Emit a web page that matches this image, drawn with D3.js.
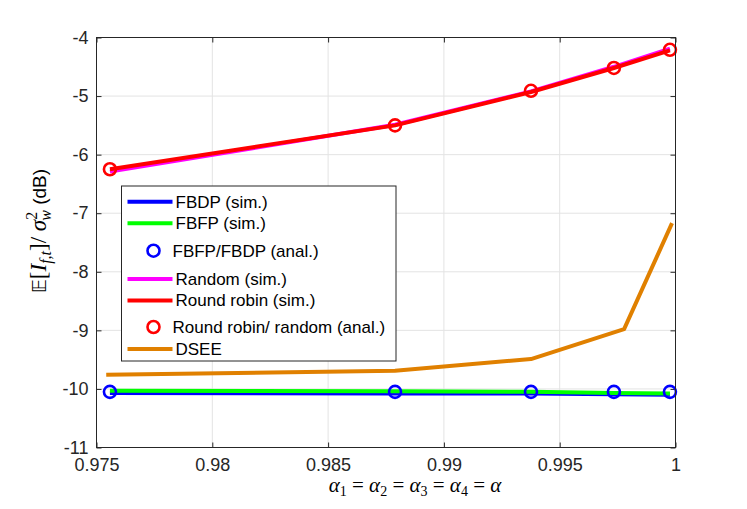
<!DOCTYPE html>
<html><head><meta charset="utf-8">
<script src="https://cdn.jsdelivr.net/npm/d3@7"></script>
<style>body{margin:0;background:#fff}svg{display:block}</style>
</head><body>
<svg id="c" width="747" height="509"></svg>
<script>
const alphaSim = [0.97558, 0.98789, 0.99376, 0.99734, 0.99976];
const alphaDSEE = [0.97542, 0.98789, 0.99376, 0.99778, 0.99985];
const fbdpSim = [-10.07, -10.08, -10.08, -10.09, -10.10];
const fbfpSim = [-10.03, -10.04, -10.05, -10.07, -10.08];
const fbAnal = [-10.05, -10.05, -10.05, -10.05, -10.05];
const randomSim = [-6.29, -5.49, -4.92, -4.50, -4.19];
const rrSim = [-6.25, -5.50, -4.93, -4.52, -4.22];
const rrAnal = [-6.25, -5.50, -4.91, -4.52, -4.21];
const dsee = [-9.76, -9.69, -9.49, -8.98, -7.17];
const xTicks = [0.975, 0.98, 0.985, 0.99, 0.995, 1];
const xTickLabels = ["0.975", "0.98", "0.985", "0.99", "0.995", "1"];
const yTicks = [-4, -5, -6, -7, -8, -9, -10, -11];
const yTickLabels = ["-4", "-5", "-6", "-7", "-8", "-9", "-10", "-11"];
const legendLabels = ["FBDP (sim.)", "FBFP (sim.)", "FBFP/FBDP (anal.)", "Random (sim.)", "Round robin (sim.)", "Round robin/ random (anal.)", "DSEE"];

const svg = d3.select("#c");
const L = 96.5, R = 675.5, T = 37.5, B = 447.5;
const x = d3.scaleLinear().domain([0.975, 1]).range([L, R]);
const y = d3.scaleLinear().domain([-11, -4]).range([B, T]);
const axisCol = "#262626";
const font = "'Liberation Sans', Arial, sans-serif";

// grid
const g = svg.append("g");
g.selectAll(".gx").data(xTicks).join("line")
  .attr("x1", d => x(d)).attr("x2", d => x(d)).attr("y1", T).attr("y2", B)
  .attr("stroke", "#e3e3e3").attr("stroke-width", 1);
g.selectAll(".gy").data(yTicks).join("line")
  .attr("x1", L).attr("x2", R).attr("y1", d => y(d)).attr("y2", d => y(d))
  .attr("stroke", "#e3e3e3").attr("stroke-width", 1);

// axes
const xAxB = d3.axisBottom(x).tickValues(xTicks).tickFormat((d, i) => xTickLabels[i]).tickSizeInner(-5).tickSizeOuter(0).tickPadding(11);
const xAxT = d3.axisTop(x).tickValues(xTicks).tickFormat("").tickSizeInner(-5).tickSizeOuter(0);
const yAxL = d3.axisLeft(y).tickValues(yTicks).tickFormat((d, i) => yTickLabels[i]).tickSizeInner(-5).tickSizeOuter(0).tickPadding(8);
const yAxR = d3.axisRight(y).tickValues(yTicks).tickFormat("").tickSizeInner(-5).tickSizeOuter(0);
function styleAxis(sel) {
  sel.select(".domain").remove();
  sel.selectAll("line").attr("stroke", axisCol).attr("stroke-width", 1);
  sel.selectAll("text").attr("fill", axisCol).style("font-family", font).style("font-size", "18px");
}
svg.append("g").attr("transform", `translate(0,${B})`).call(xAxB).call(styleAxis);
svg.append("g").attr("transform", `translate(0,${T})`).call(xAxT).call(styleAxis);
svg.append("g").attr("transform", `translate(${L},0)`).call(yAxL).call(styleAxis);
svg.append("g").attr("transform", `translate(${R},0)`).call(yAxR).call(styleAxis);

// data
const lineGen = (xs) => d3.line().x((d, i) => x(xs[i])).y(d => y(d));
const plot = svg.append("g");
function addLine(data, xs, color) {
  plot.append("path").attr("d", lineGen(xs)(data)).attr("fill", "none")
    .attr("stroke", color).attr("stroke-width", 4).attr("stroke-linejoin", "round");
}
function addCircles(data, xs, color) {
  plot.append("g").selectAll("circle").data(data).join("circle")
    .attr("cx", (d, i) => x(xs[i])).attr("cy", d => y(d)).attr("r", 6)
    .attr("fill", "none").attr("stroke", color).attr("stroke-width", 2.6);
}
addLine(fbdpSim, alphaSim, "#0000ff");
addLine(fbfpSim, alphaSim, "#00ff00");
addCircles(fbAnal, alphaSim, "#0000ff");
addLine(randomSim, alphaSim, "#ff00ff");
addLine(rrSim, alphaSim, "#ff0000");
addCircles(rrAnal, alphaSim, "#ff0000");
addLine(dsee, alphaDSEE, "#e08000");

// box
svg.append("rect").attr("x", L).attr("y", T).attr("width", R - L).attr("height", B - T)
  .attr("fill", "none").attr("stroke", axisCol).attr("stroke-width", 1);

// legend
const lg = svg.append("g");
lg.append("rect").attr("x", 121.5).attr("y", 186).attr("width", 274.5).attr("height", 175)
  .attr("fill", "#fff").attr("stroke", axisCol).attr("stroke-width", 1);
const legendTypes = ["line", "line", "circle", "line", "line", "circle", "line"];
const legendColors = ["#0000ff", "#00ff00", "#0000ff", "#ff00ff", "#ff0000", "#ff0000", "#e08000"];
const legendY = [201.7, 223.3, 250.7, 279, 300.5, 327, 349];
legendLabels.forEach((lab, i) => {
  const yy = legendY[i];
  if (legendTypes[i] === "line") {
    lg.append("line").attr("x1", 127.5).attr("x2", 172.5).attr("y1", yy).attr("y2", yy)
      .attr("stroke", legendColors[i]).attr("stroke-width", 4);
    lg.append("text").attr("x", 175.5).attr("y", yy).attr("dy", "0.35em")
      .style("font-family", font).style("font-size", "17px").attr("fill", "#000").text(lab);
  } else {
    lg.append("circle").attr("cx", 153.5).attr("cy", yy).attr("r", 6)
      .attr("fill", "none").attr("stroke", legendColors[i]).attr("stroke-width", 2.6);
    lg.append("text").attr("x", 172.5).attr("y", yy).attr("dy", "0.35em")
      .style("font-family", font).style("font-size", "17px").attr("fill", "#000").text(lab);
  }
});

// x label
const serif = "'Liberation Serif', 'DejaVu Serif', serif";
const xl = svg.append("text").attr("x", 415).attr("y", 492).attr("text-anchor", "middle")
  .style("font-family", serif).style("font-size", "21px").attr("fill", "#000");
[1, 2, 3, 4].forEach((k) => {
  xl.append("tspan").style("font-style", "italic").text("α");
  xl.append("tspan").attr("dy", 4).style("font-size", "14px").text(String(k));
  xl.append("tspan").attr("dy", -4).text(" = ");
});
xl.append("tspan").style("font-style", "italic").text("α");

// y label
const yl = svg.append("text").attr("transform", "translate(46,231) rotate(-90)").attr("text-anchor", "middle")
  .style("font-family", serif).style("font-size", "23px").attr("fill", "#000");
yl.append("tspan").style("font-family", "'DejaVu Sans', sans-serif").style("font-size", "19px").text("𝔼");
yl.append("tspan").text("[");
yl.append("tspan").style("font-style", "italic").text("I");
yl.append("tspan").attr("dy", 5).style("font-size", "16px").style("font-style", "italic").text("f,t");
yl.append("tspan").attr("dy", -5).text("]/ ");
yl.append("tspan").style("font-style", "italic").text("σ");
yl.append("tspan").attr("dy", -9).style("font-size", "16px").text("2");
yl.append("tspan").attr("dy", 14).attr("dx", -9).style("font-size", "16px").style("font-style", "italic").text("w");
yl.append("tspan").attr("dy", -5).style("font-family", font).style("font-size", "19px").text(" (dB)");
</script>
</body></html>
